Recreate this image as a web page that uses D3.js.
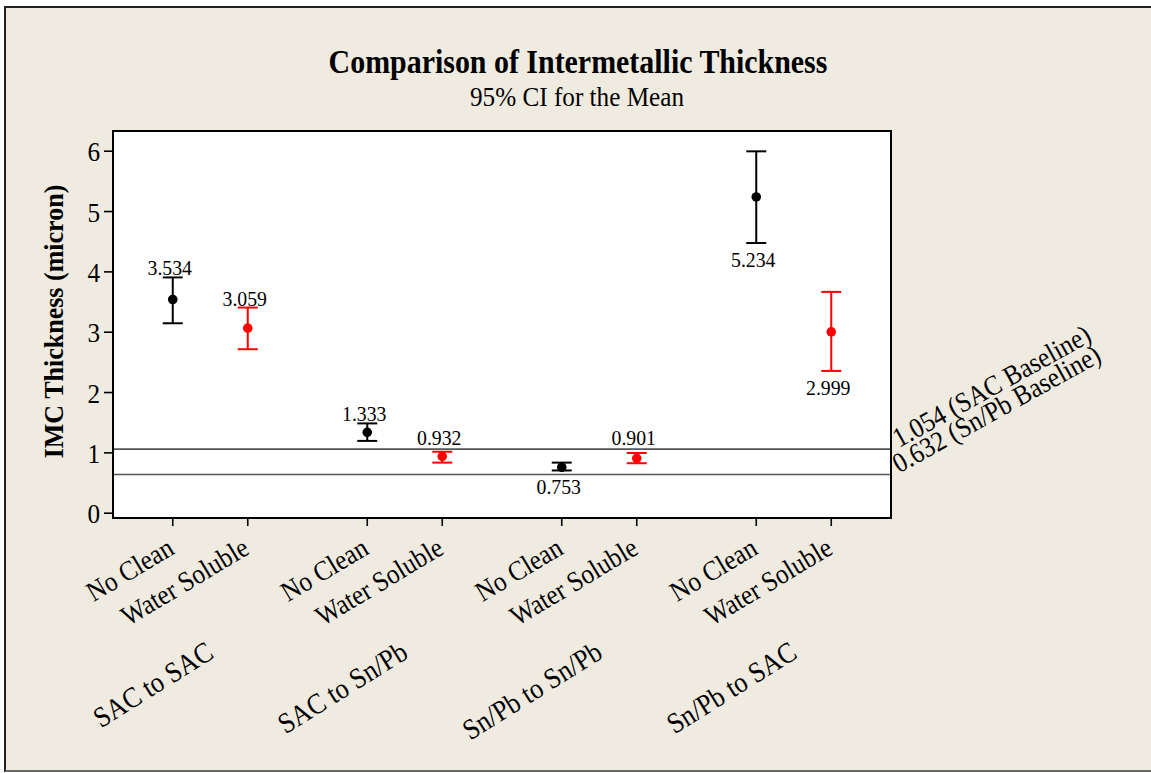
<!DOCTYPE html>
<html>
<head>
<meta charset="utf-8">
<script src="https://cdn.jsdelivr.net/npm/d3@7"></script>
<style>
  html, body { margin: 0; padding: 0; background: #ffffff; }
  svg { display: block; }
  text { font-family: "Liberation Serif", "Times New Roman", serif; fill: #000; }
</style>
</head>
<body>
<svg id="chart" width="1151" height="773"></svg>
<script>
// Interval plot: mean IMC thickness with 95% confidence intervals
const groups = ["SAC to SAC", "SAC to Sn/Pb", "Sn/Pb to Sn/Pb", "Sn/Pb to SAC"];
const fluxes = ["No Clean", "Water Soluble"];
const means  = [3.534, 3.059, 1.333, 0.932, 0.753, 0.901, 5.234, 2.999];
const ciLow  = [3.14, 2.71, 1.19, 0.83, 0.70, 0.82, 4.47, 2.35];
const ciHigh = [3.90, 3.40, 1.48, 1.01, 0.83, 0.99, 5.99, 3.66];
const labelSide = ["above", "above", "above", "above", "below", "above", "below", "below"];
const baselineValues = [1.054, 0.632];
const baselineNames  = ["SAC Baseline", "Sn/Pb Baseline"];
const yTicks = [0, 1, 2, 3, 4, 5, 6];
const fluxColors = ["#000000", "#ff0000"];

const W = 1151, H = 773;
const plot = { left: 113, right: 891, top: 131, bottom: 518 };
const SX = 0.9;   // narrow, tall glyphs

const svg = d3.select("#chart");

// page background and frame
svg.append("rect").attr("x", 0).attr("y", 0).attr("width", W).attr("height", H).attr("fill", "#ffffff");
svg.append("rect").attr("x", 5).attr("y", 7).attr("width", W + 10).attr("height", 764)
  .attr("fill", "#efebe1").attr("stroke", "#222").attr("stroke-width", 2);
svg.append("line").attr("x1", 5).attr("x2", W).attr("y1", 771).attr("y2", 771)
  .attr("stroke", "#666").attr("stroke-width", 2);

// plot area
svg.append("rect").attr("x", plot.left).attr("y", plot.top)
  .attr("width", plot.right - plot.left).attr("height", plot.bottom - plot.top)
  .attr("fill", "#ffffff");

// scales
const x0 = d3.scaleBand().domain(groups).range([plot.left, plot.right]).padding(0);
const bw = x0.bandwidth();
const x1 = d3.scalePoint().domain(fluxes).range([bw / 2 - 37.5, bw / 2 + 37.5]);
const y = d3.scaleLinear().domain([-0.088, 6.327]).range([plot.bottom, plot.top]);

const points = [];
groups.forEach((g, gi) => {
  fluxes.forEach((f, fi) => {
    const i = gi * fluxes.length + fi;
    points.push({ group: g, flux: f, fi, mean: means[i], lo: ciLow[i], hi: ciHigh[i], side: labelSide[i],
                  x: x0(g) + x1(f) });
  });
});

// reference baselines
const refG = svg.append("g");
baselineValues.forEach((v, i) => {
  refG.append("line")
    .attr("x1", plot.left).attr("x2", plot.right)
    .attr("y1", y(v)).attr("y2", y(v))
    .attr("stroke", "#555").attr("stroke-width", 1.6);
  refG.append("text")
    .attr("transform", `translate(${plot.right + 8},${y(v) - 1}) rotate(-29) scale(${SX},1)`)
    .attr("font-size", 28)
    .text(`${v.toFixed(3)} (${baselineNames[i]})`);
});

// y axis
const yAxis = d3.axisLeft(y).tickValues(yTicks).tickSize(9).tickSizeOuter(0).tickPadding(4)
  .tickFormat(d3.format("d"));
const yg = svg.append("g").attr("transform", `translate(${plot.left},0)`).call(yAxis);
yg.select(".domain").remove();
yg.selectAll(".tick line").attr("stroke", "#000").attr("stroke-width", 1.6);
yg.selectAll(".tick text").attr("font-size", 28).attr("font-family", "Liberation Serif").attr("fill", "#000")
  .attr("x", null).attr("dy", null)
  .attr("transform", `translate(-13,10) scale(${SX},1)`);

// x axis ticks at each interval
const xg = svg.append("g");
xg.selectAll("line").data(points).join("line")
  .attr("x1", d => d.x).attr("x2", d => d.x)
  .attr("y1", plot.bottom).attr("y2", plot.bottom + 8)
  .attr("stroke", "#000").attr("stroke-width", 1.6);
xg.selectAll("text.flux").data(points).join("text")
  .attr("class", "flux")
  .attr("text-anchor", "end")
  .attr("font-size", 28)
  .attr("transform", d => `translate(${d.x + 3},${plot.bottom + 35}) rotate(-31) scale(${SX},1)`)
  .text(d => d.flux);
xg.selectAll("text.group").data(groups).join("text")
  .attr("class", "group")
  .attr("text-anchor", "end")
  .attr("font-size", 29)
  .attr("transform", g => `translate(${x0(g) + bw / 2 + 5},${657}) rotate(-32) scale(${SX},1)`)
  .text(g => g);

// plot border
svg.append("rect").attr("x", plot.left).attr("y", plot.top)
  .attr("width", plot.right - plot.left).attr("height", plot.bottom - plot.top)
  .attr("fill", "none").attr("stroke", "#000").attr("stroke-width", 2);

// intervals
const capHalf = 10;
const iv = svg.append("g").selectAll("g").data(points).join("g")
  .attr("stroke", d => fluxColors[d.fi]).attr("stroke-width", 2);
iv.append("line").attr("x1", d => d.x).attr("x2", d => d.x)
  .attr("y1", d => y(d.hi)).attr("y2", d => y(d.lo));
iv.append("line").attr("x1", d => d.x - capHalf).attr("x2", d => d.x + capHalf)
  .attr("y1", d => y(d.hi)).attr("y2", d => y(d.hi));
iv.append("line").attr("x1", d => d.x - capHalf).attr("x2", d => d.x + capHalf)
  .attr("y1", d => y(d.lo)).attr("y2", d => y(d.lo));
iv.append("circle").attr("cx", d => d.x).attr("cy", d => y(d.mean)).attr("r", 4.8)
  .attr("fill", d => fluxColors[d.fi]).attr("stroke", "none");

// mean value labels, kept clear of the upper baseline
const topRef = y(d3.max(baselineValues));
svg.append("g").selectAll("text").data(points).join("text")
  .attr("text-anchor", "middle")
  .attr("font-size", 22)
  .attr("transform", d => {
    let ty;
    if (d.side === "below") ty = y(d.lo) + 24;
    else {
      const base = y(d.hi) - 2;
      ty = (base > topRef - 14 && y(d.lo) > topRef) ? Math.min(base, topRef - 4) : base;
    }
    return `translate(${d.x - 3},${ty}) scale(${SX},1)`;
  })
  .text(d => d.mean.toFixed(3));

// axis title
svg.append("text")
  .attr("transform", `translate(63,${(plot.top + plot.bottom) / 2 - 3}) rotate(-90) scale(0.93,1)`)
  .attr("text-anchor", "middle").attr("font-size", 28).attr("font-weight", "bold")
  .text("IMC Thickness (micron)");

// titles
svg.append("text").attr("transform", `translate(578,73) scale(0.88,1)`).attr("text-anchor", "middle")
  .attr("font-size", 34).attr("font-weight", "bold")
  .text("Comparison of Intermetallic Thickness");
svg.append("text").attr("transform", `translate(577,106) scale(${SX},1)`).attr("text-anchor", "middle")
  .attr("font-size", 28)
  .text("95% CI for the Mean");
</script>
</body>
</html>
